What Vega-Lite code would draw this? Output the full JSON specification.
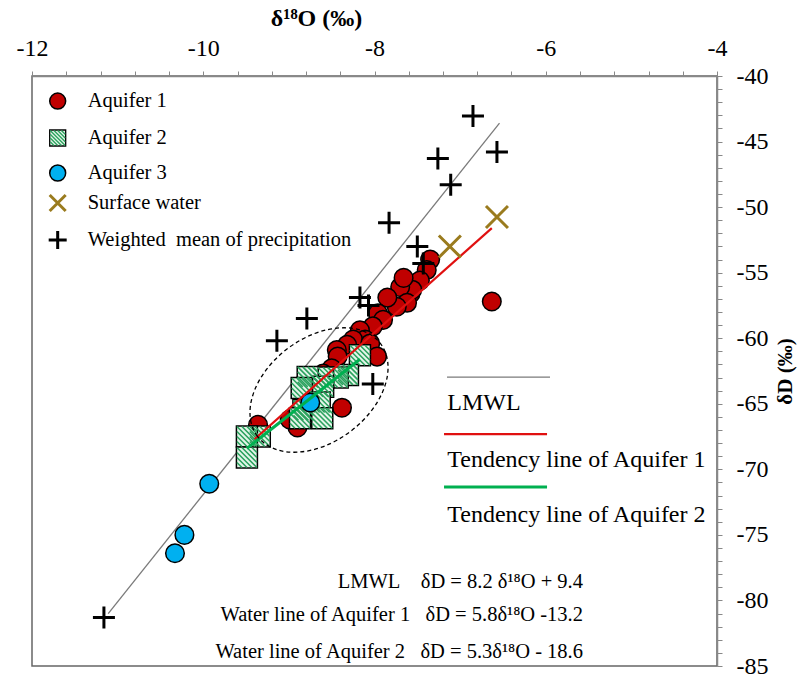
{
  "$schema": "https://vega.github.io/schema/vega-lite/v6.json",
  "width": 685,
  "height": 590,
  "autosize": {"type": "none"},
  "padding": {"left": 32, "top": 76, "right": 83, "bottom": 11},
  "background": "white",
  "config": {
    "view": {"stroke": "#666", "strokeWidth": 1.5},
    "font": "Liberation Serif",
    "axis": {"labelFont": "Liberation Serif", "titleFont": "Liberation Serif"},
    "text": {"font": "Liberation Serif"}
  },
  "datasets": {
    "pts": [
      {"g": "A1", "d18O": -7.35, "dD": -54.0},
      {"g": "A1", "d18O": -7.39, "dD": -54.8},
      {"g": "A1", "d18O": -7.47, "dD": -55.6},
      {"g": "A1", "d18O": -7.58, "dD": -56.6},
      {"g": "A1", "d18O": -7.56, "dD": -56.3},
      {"g": "A1", "d18O": -7.70, "dD": -56.1},
      {"g": "A1", "d18O": -7.66, "dD": -55.4},
      {"g": "A1", "d18O": -7.62, "dD": -57.3},
      {"g": "A1", "d18O": -7.74, "dD": -57.6},
      {"g": "A1", "d18O": -7.85, "dD": -56.9},
      {"g": "A1", "d18O": -7.96, "dD": -58.1},
      {"g": "A1", "d18O": -7.90, "dD": -58.6},
      {"g": "A1", "d18O": -8.02, "dD": -59.1},
      {"g": "A1", "d18O": -8.17, "dD": -59.4},
      {"g": "A1", "d18O": -8.11, "dD": -60.1},
      {"g": "A1", "d18O": -8.25, "dD": -60.1},
      {"g": "A1", "d18O": -8.32, "dD": -60.5},
      {"g": "A1", "d18O": -8.05, "dD": -60.4},
      {"g": "A1", "d18O": -7.97, "dD": -61.4},
      {"g": "A1", "d18O": -8.44, "dD": -60.9},
      {"g": "A1", "d18O": -8.43, "dD": -61.4},
      {"g": "A1", "d18O": -8.50, "dD": -62.3},
      {"g": "A1", "d18O": -8.60, "dD": -62.7},
      {"g": "A1", "d18O": -8.38, "dD": -65.3},
      {"g": "A1", "d18O": -8.90, "dD": -66.8},
      {"g": "A1", "d18O": -8.99, "dD": -66.2},
      {"g": "A1", "d18O": -9.36, "dD": -66.6},
      {"g": "A1", "d18O": -6.63, "dD": -57.2},
      {"g": "A2", "d18O": -8.17, "dD": -61.3},
      {"g": "A2", "d18O": -8.31, "dD": -62.8},
      {"g": "A2", "d18O": -8.43, "dD": -63.0},
      {"g": "A2", "d18O": -8.60, "dD": -63.0},
      {"g": "A2", "d18O": -8.78, "dD": -62.95},
      {"g": "A2", "d18O": -8.60, "dD": -63.7},
      {"g": "A2", "d18O": -8.85, "dD": -63.8},
      {"g": "A2", "d18O": -8.64, "dD": -64.9},
      {"g": "A2", "d18O": -8.83, "dD": -65.5},
      {"g": "A2", "d18O": -8.87, "dD": -66.1},
      {"g": "A2", "d18O": -8.61, "dD": -66.1},
      {"g": "A2", "d18O": -9.34, "dD": -67.5},
      {"g": "A2", "d18O": -9.49, "dD": -67.5},
      {"g": "A2", "d18O": -9.49, "dD": -69.1},
      {"g": "A3", "d18O": -8.75, "dD": -64.9},
      {"g": "A3", "d18O": -9.93, "dD": -71.1},
      {"g": "A3", "d18O": -10.22, "dD": -75.0},
      {"g": "A3", "d18O": -10.33, "dD": -76.4},
      {"g": "SW", "d18O": -7.12, "dD": -53.0},
      {"g": "SW", "d18O": -6.57, "dD": -50.75},
      {"g": "P", "d18O": -6.85, "dD": -43.05},
      {"g": "P", "d18O": -6.57, "dD": -45.8},
      {"g": "P", "d18O": -7.26, "dD": -46.3},
      {"g": "P", "d18O": -7.11, "dD": -48.3},
      {"g": "P", "d18O": -7.83, "dD": -51.2},
      {"g": "P", "d18O": -7.50, "dD": -53.0},
      {"g": "P", "d18O": -7.43, "dD": -54.3},
      {"g": "P", "d18O": -8.17, "dD": -56.9},
      {"g": "P", "d18O": -8.07, "dD": -57.5},
      {"g": "P", "d18O": -8.79, "dD": -58.5},
      {"g": "P", "d18O": -9.14, "dD": -60.2},
      {"g": "P", "d18O": -8.02, "dD": -63.5},
      {"g": "P", "d18O": -11.16, "dD": -81.3}
    ],
    "lines": [
      {"series": "LMWL", "line": "LMWL", "d18O": -11.11, "dD": -81.0},
      {"series": "LMWL", "line": "LMWL", "d18O": -6.54, "dD": -43.6},
      {"series": "LMWL", "line": "keyLMWL", "d18O": -7.153, "dD": -62.96},
      {"series": "LMWL", "line": "keyLMWL", "d18O": -5.95, "dD": -62.96},
      {"series": "A1", "line": "T1", "d18O": -9.40, "dD": -67.7},
      {"series": "A1", "line": "T1", "d18O": -6.63, "dD": -51.6},
      {"series": "A1", "line": "keyT1", "d18O": -7.188, "dD": -67.31},
      {"series": "A1", "line": "keyT1", "d18O": -5.985, "dD": -67.31},
      {"series": "A2", "line": "T2", "d18O": -9.49, "dD": -68.4},
      {"series": "A2", "line": "T2", "d18O": -8.17, "dD": -61.6},
      {"series": "A2", "line": "keyT2", "d18O": -7.188, "dD": -71.35},
      {"series": "A2", "line": "keyT2", "d18O": -5.985, "dD": -71.35}
    ],
    "ell": [{"d18O": -8.648, "dD": -63.95}],
    "legsym": [
      {"g": "A1", "d18O": -11.70, "dD": -41.91},
      {"g": "A2", "d18O": -11.70, "dD": -44.73},
      {"g": "A3", "d18O": -11.70, "dD": -47.40},
      {"g": "SW", "d18O": -11.70, "dD": -49.69},
      {"g": "P", "d18O": -11.70, "dD": -52.51}
    ],
    "legtext": [
      {"label": "Aquifer 1", "d18O": -11.35, "dD": -41.91},
      {"label": "Aquifer 2", "d18O": -11.35, "dD": -44.73},
      {"label": "Aquifer 3", "d18O": -11.35, "dD": -47.40},
      {"label": "Surface water", "d18O": -11.35, "dD": -49.69},
      {"label": "Weighted\u00a0 mean of precipitation", "d18O": -11.35, "dD": -52.51}
    ],
    "notes": [
      {"kind": "key", "text": "LMWL", "d18O": -7.15, "dD": -64.94},
      {"kind": "key", "text": "Tendency line of Aquifer 1", "d18O": -7.15, "dD": -69.29},
      {"kind": "key", "text": "Tendency line of Aquifer 2", "d18O": -7.15, "dD": -73.48},
      {"kind": "eq", "text": "LMWL\u00a0\u00a0\u00a0\u00a0δD = 8.2 δ¹⁸O + 9.4", "d18O": -5.565, "dD": -78.59},
      {"kind": "eq", "text": "Water line of Aquifer 1\u00a0\u00a0\u00a0δD = 5.8δ¹⁸O -13.2", "d18O": -5.565, "dD": -81.11},
      {"kind": "eq", "text": "Water line of Aquifer 2\u00a0\u00a0\u00a0δD = 5.3δ¹⁸O - 18.6", "d18O": -5.565, "dD": -83.93}
    ]
  },
  "encoding": {
    "x": {
      "field": "d18O", "type": "quantitative",
      "scale": {"domain": [-12, -4], "nice": false, "zero": false},
      "axis": {
        "orient": "top",
        "values": [-12, -11.6, -11.2, -10.8, -10.4, -10, -9.6, -9.2, -8.8, -8.4, -8, -7.6, -7.2, -6.8, -6.4, -6, -5.6, -5.2, -4.8, -4.4, -4],
        "labelExpr": "abs(datum.value % 2) < 0.01 ? '' + datum.value : ''",
        "title": "δ¹⁸O (‰)", "titleFont": "Liberation Serif", "titleFontSize": 24, "titleFontWeight": "bold", "titleColor": "black",
        "titleX": 284, "titleY": -58, "titleAlign": "center", "titleBaseline": "middle",
        "labelFont": "Liberation Serif", "labelFontSize": 24, "labelColor": "black", "labelPadding": 11,
        "labelOverlap": false, "labelFlush": false, "labelBound": false,
        "tickSize": 5, "tickColor": "#888", "domainColor": "#888", "domainWidth": 1.5, "grid": false
      }
    },
    "y": {
      "field": "dD", "type": "quantitative",
      "scale": {"domain": [-85, -40], "nice": false, "zero": false},
      "axis": {
        "orient": "right",
        "values": [-85, -84, -83, -82, -81, -80, -79, -78, -77, -76, -75, -74, -73, -72, -71, -70, -69, -68, -67, -66, -65, -64, -63, -62, -61, -60, -59, -58, -57, -56, -55, -54, -53, -52, -51, -50, -49, -48, -47, -46, -45, -44, -43, -42, -41, -40],
        "labelExpr": "datum.value % 5 == 0 ? '' + datum.value : ''",
        "title": "δD (‰)", "titleFont": "Liberation Serif", "titleFontSize": 21, "titleFontWeight": "bold", "titleColor": "black",
        "titleAngle": 270, "titleX": 68, "titleY": 295, "titleAlign": "center", "titleBaseline": "middle",
        "labelFont": "Liberation Serif", "labelFontSize": 24, "labelColor": "black", "labelPadding": 14,
        "labelAlign": "left", "labelBaseline": "middle",
        "labelOverlap": false, "labelFlush": false, "labelBound": false,
        "tickSize": 5, "tickColor": "#888", "domainColor": "#888", "domainWidth": 1.5, "grid": false
      }
    }
  },
  "layer": [
    {
      "data": {"name": "lines"},
      "transform": [{"filter": "datum.series == 'LMWL'"}],
      "mark": {"type": "line", "color": "#7a7a7a", "strokeWidth": 1.3},
      "encoding": {"detail": {"field": "line"}}
    },
    {
      "data": {"name": "pts"},
      "transform": [{"filter": "datum.g == 'A1'"}],
      "mark": {"type": "circle", "fill": "#c00000", "stroke": "#000", "strokeWidth": 1.5, "size": 346, "opacity": 1},
      "encoding": {}
    },
    {
      "data": {"name": "pts"},
      "transform": [{"filter": "datum.g == 'A2'"}],
      "mark": {"type": "square", "fill": "#e4f5e9", "stroke": "#000", "strokeWidth": 1.5, "size": 441, "opacity": 1},
      "encoding": {}
    },
    {
      "data": {"name": "pts"},
      "transform": [{"filter": "datum.g == 'A2'"}],
      "mark": {"type": "point", "shape": "M-1,-1L1,1M-1,-0.5L0.5,1M-1,0L0,1M-1,0.5L-0.5,1M-0.5,-1L1,0.5M0,-1L1,0M0.5,-1L1,-0.5", "filled": false, "stroke": "#2ca25f", "strokeWidth": 1.6, "size": 400, "opacity": 1},
      "encoding": {}
    },
    {
      "data": {"name": "pts"},
      "transform": [{"filter": "datum.g == 'A3'"}],
      "mark": {"type": "circle", "fill": "#00b0f0", "stroke": "#000", "strokeWidth": 1.5, "size": 346, "opacity": 1},
      "encoding": {}
    },
    {
      "data": {"name": "lines"},
      "transform": [{"filter": "datum.series == 'A1'"}],
      "mark": {"type": "line", "color": "#e01010", "strokeWidth": 2.2},
      "encoding": {"detail": {"field": "line"}}
    },
    {
      "data": {"name": "lines"},
      "transform": [{"filter": "datum.series == 'A2'"}],
      "mark": {"type": "line", "color": "#00b050", "strokeWidth": 3},
      "encoding": {"detail": {"field": "line"}}
    },
    {
      "data": {"name": "pts"},
      "transform": [{"filter": "datum.g == 'P'"}],
      "mark": {"type": "point", "shape": "M-1,0L1,0M0,-1L0,1", "filled": false, "stroke": "#000", "strokeWidth": 3, "size": 484, "opacity": 1},
      "encoding": {}
    },
    {
      "data": {"name": "pts"},
      "transform": [{"filter": "datum.g == 'SW'"}],
      "mark": {"type": "point", "shape": "M-1,-1L1,1M-1,1L1,-1", "filled": false, "stroke": "#9a7b1e", "strokeWidth": 3, "size": 484, "opacity": 1},
      "encoding": {}
    },
    {
      "data": {"name": "ell"},
      "mark": {"type": "point", "shape": "M-0.799,0.602A1,0.675,-37,1,1,0.799,-0.602A1,0.675,-37,1,1,-0.799,0.602Z", "filled": false, "stroke": "#000", "strokeWidth": 1.3, "strokeDash": [4, 3], "size": 23716, "opacity": 1},
      "encoding": {}
    },
    {
      "data": {"name": "legsym"},
      "transform": [{"filter": "datum.g == 'A1'"}],
      "mark": {"type": "circle", "fill": "#c00000", "stroke": "#000", "strokeWidth": 1.5, "size": 254, "opacity": 1},
      "encoding": {}
    },
    {
      "data": {"name": "legsym"},
      "transform": [{"filter": "datum.g == 'A2'"}],
      "mark": {"type": "square", "fill": "#e4f5e9", "stroke": "#000", "strokeWidth": 1.3, "size": 256, "opacity": 1},
      "encoding": {}
    },
    {
      "data": {"name": "legsym"},
      "transform": [{"filter": "datum.g == 'A2'"}],
      "mark": {"type": "point", "shape": "M-1,-1L1,1M-1,-0.5L0.5,1M-1,0L0,1M-1,0.5L-0.5,1M-0.5,-1L1,0.5M0,-1L1,0M0.5,-1L1,-0.5", "filled": false, "stroke": "#2ca25f", "strokeWidth": 1.4, "size": 225, "opacity": 1},
      "encoding": {}
    },
    {
      "data": {"name": "legsym"},
      "transform": [{"filter": "datum.g == 'A3'"}],
      "mark": {"type": "circle", "fill": "#00b0f0", "stroke": "#000", "strokeWidth": 1.5, "size": 254, "opacity": 1},
      "encoding": {}
    },
    {
      "data": {"name": "legsym"},
      "transform": [{"filter": "datum.g == 'SW'"}],
      "mark": {"type": "point", "shape": "M-1,-1L1,1M-1,1L1,-1", "filled": false, "stroke": "#9a7b1e", "strokeWidth": 3, "size": 256, "opacity": 1},
      "encoding": {}
    },
    {
      "data": {"name": "legsym"},
      "transform": [{"filter": "datum.g == 'P'"}],
      "mark": {"type": "point", "shape": "M-1,0L1,0M0,-1L0,1", "filled": false, "stroke": "#000", "strokeWidth": 3, "size": 324, "opacity": 1},
      "encoding": {}
    },
    {
      "data": {"name": "legtext"},
      "mark": {"type": "text", "align": "left", "baseline": "middle", "font": "Liberation Serif", "fontSize": 20.5, "color": "#000"},
      "encoding": {"text": {"field": "label"}}
    },
    {
      "data": {"name": "notes"},
      "transform": [{"filter": "datum.kind == 'key'"}],
      "mark": {"type": "text", "align": "left", "baseline": "middle", "font": "Liberation Serif", "fontSize": 24, "color": "#000"},
      "encoding": {"text": {"field": "text"}}
    },
    {
      "data": {"name": "notes"},
      "transform": [{"filter": "datum.kind == 'eq'"}],
      "mark": {"type": "text", "align": "right", "baseline": "middle", "font": "Liberation Serif", "fontSize": 20.5, "color": "#000"},
      "encoding": {"text": {"field": "text"}}
    }
  ]
}
